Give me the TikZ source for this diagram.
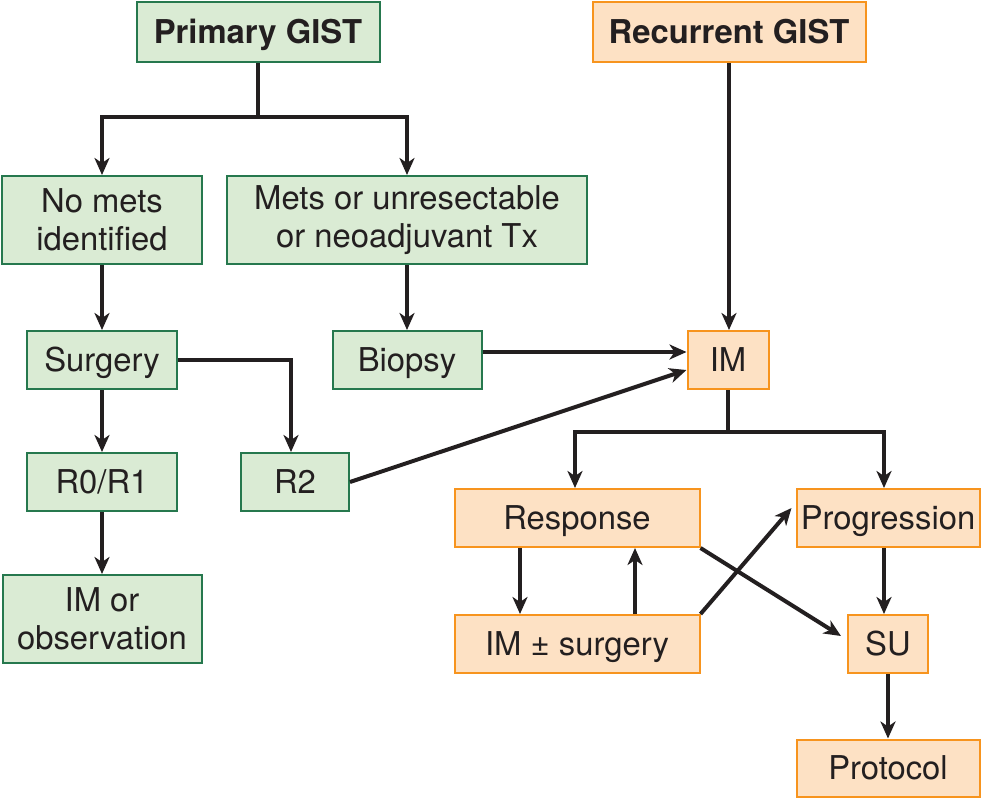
\documentclass[tikz,border=0pt]{standalone}
\usepackage{fontspec}
\setmainfont{TeX Gyre Heros}
\usetikzlibrary{arrows.meta}

\definecolor{gistgreen}{RGB}{218,235,212}
\definecolor{gistgreenline}{RGB}{38,120,78}
\definecolor{gistorange}{RGB}{253,225,196}
\definecolor{gistorangeline}{RGB}{247,148,30}
\definecolor{gisttext}{RGB}{35,31,32}

\begin{document}
\begin{tikzpicture}[
  x=0.5pt, y=-0.5pt,
  every node/.style={draw,align=center,inner sep=0pt,line width=1pt,text=gisttext,
    text height=11.8pt,text depth=0pt,font=\fontsize{16.4}{19}\selectfont},
  twoline/.style={text height={},text depth={}},
  prim/.style={fill=gistgreen,draw=gistgreenline},
  recur/.style={fill=gistorange,draw=gistorangeline},
  arr/.style={line width=2pt,draw=gisttext,-{Stealth[length=8.5pt,width=7.5pt,inset=2.5pt]}},
  link/.style={line width=2pt,draw=gisttext}
]
  \useasboundingbox (0,0) rectangle (991,800);

  % primary side
  \node[prim,minimum width=121.5pt,minimum height=30pt] (primary) at (258,32) {\bfseries Primary GIST};
  \node[prim,twoline,minimum width=100pt,minimum height=44pt] (nomets) at (102,220) {No mets\\identified};
  \node[prim,twoline,minimum width=180pt,minimum height=44pt] (mets) at (407,220) {Mets or unresectable\\or neoadjuvant Tx};
  \node[prim,minimum width=75pt,minimum height=29pt] (surgery) at (102,360) {Surgery};
  \node[prim,minimum width=74.5pt,minimum height=29pt] (biopsy) at (407,360) {Biopsy};
  \node[prim,minimum width=75pt,minimum height=29pt] (rzero) at (102,482) {R0/R1};
  \node[prim,minimum width=54pt,minimum height=29pt] (rtwo) at (295,482) {R2};
  \node[prim,twoline,minimum width=99.5pt,minimum height=44pt] (imobs) at (102,619) {IM or\\observation};

  % recurrent side
  \node[recur,minimum width=136.5pt,minimum height=30pt] (recurrent) at (729,32) {\bfseries Recurrent GIST};
  \node[recur,minimum width=40.5pt,minimum height=29pt] (im) at (728,360) {IM};
  \node[recur,minimum width=122.5pt,minimum height=29pt] (response) at (577,518) {Response};
  \node[recur,minimum width=91.5pt,minimum height=29pt] (progression) at (888,518) {Progression};
  \node[recur,minimum width=122.5pt,minimum height=29pt] (imsurgery) at (577,644) {IM ± surgery};
  \node[recur,minimum width=40pt,minimum height=29pt] (su) at (888,644) {SU};
  \node[recur,minimum width=91.5pt,minimum height=28.5pt] (protocol) at (888,768) {Protocol};

  \coordinate (psplit) at (258,117);
  \coordinate (isplit) at (728,432);

  \draw[link] (primary.south) -- (psplit);
  \draw[arr] (psplit) -| (nomets.north);
  \draw[arr] (psplit) -| (mets.north);
  \draw[arr] (nomets) -- (surgery);
  \draw[arr] (mets) -- (biopsy);
  \draw[arr] (surgery) -- (rzero);
  \draw[arr] (surgery.east) -| ([xshift=-2pt]rtwo.north);
  \draw[arr] (rzero) -- (imobs);
  \draw[arr] ([yshift=4pt]biopsy.east) -- ([yshift=4pt]im.west);
  \draw[arr] (rtwo.east) -- ([yshift=-5pt]im.west);
  \draw[arr] (recurrent.south) -- (recurrent.south |- im.north);

  \draw[link] (im.south) -- (isplit);
  \draw[arr] (isplit) -| ([xshift=-1pt]response.north);
  \draw[arr] (isplit) -| ([xshift=-2pt]progression.north);
  \draw[arr] ([xshift=-28.5pt]response.south) -- ([xshift=-28.5pt]imsurgery.north);
  \draw[arr] ([xshift=29pt]imsurgery.north) -- ([xshift=29pt]response.south);
  \draw[arr] (response.south east) -- ([xshift=-3pt,yshift=4pt]su.west);
  \draw[arr] (imsurgery.north east) -- ([xshift=-2pt,yshift=5pt]progression.west);
  \draw[arr] ([xshift=-2pt]progression.south) -- ([xshift=-2pt]su.north);
  \draw[arr] (su) -- (protocol);
\end{tikzpicture}
\end{document}
